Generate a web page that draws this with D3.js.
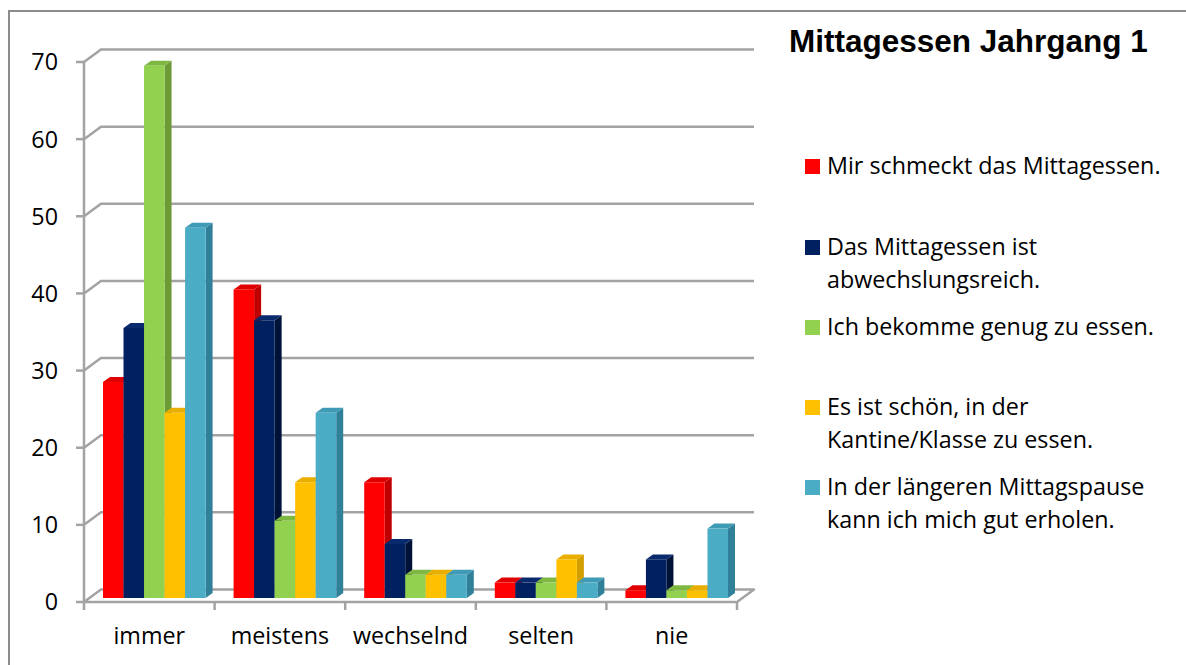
<!DOCTYPE html>
<html>
<head>
<meta charset="utf-8">
<script src="https://cdn.jsdelivr.net/npm/d3@7"></script>
<style>
  html, body { margin: 0; padding: 0; background: #fff; }
  svg { display: block; }
  .lbl { font-family: "Open Sans", "Noto Sans", sans-serif; font-size: 23.3px; fill: #000; }
</style>
</head>
<body>
<svg id="chart"></svg>
<script>
  // values
  const categories = ['immer', 'meistens', 'wechselnd', 'selten', 'nie'];
  const seriesNames = [
    ['Mir schmeckt das Mittagessen.'],
    ['Das Mittagessen ist', 'abwechslungsreich.'],
    ['Ich bekomme genug zu essen.'],
    ['Es ist schön, in der', 'Kantine/Klasse zu essen.'],
    ['In der längeren Mittagspause', 'kann ich mich gut erholen.']
  ];
  const mirSchmeckt       = [28, 40, 15, 2, 1];
  const abwechslungsreich = [35, 36, 7, 2, 5];
  const genugEssen        = [69, 10, 3, 2, 1];
  const schoenKantine     = [24, 15, 3, 5, 1];
  const erholen           = [48, 24, 3, 2, 9];
  const yTicks = [0, 10, 20, 30, 40, 50, 60, 70];
  const colors = ['#FF0000', '#002060', '#92D050', '#FFC000', '#4BACC6'];
  const sideColors = ['#C00000', '#001238', '#6B9A37', '#D49F00', '#31809A'];
  const topColors = ['#E00000', '#0A2A6E', '#7EB843', '#E8AE00', '#3F9BB5'];

  const seriesValues = [mirSchmeckt, abwechslungsreich, genugEssen, schoenKantine, erholen];

  const width = 1186, height = 665;
  const svg = d3.select('#chart').attr('width', width).attr('height', height);

  // outer chart frame (cropped at right and bottom)
  svg.append('path')
      .attr('d', `M9,${height + 5} L9,11 L${width + 5},11`)
      .attr('fill', 'none').attr('stroke', '#8c8c8c').attr('stroke-width', 2);

  const y = d3.scaleLinear().domain([0, 70]).range([602, 62]);
  const x = d3.scaleBand().domain(categories).range([84, 737]);
  const x1 = d3.scaleBand().domain(d3.range(5)).range([14, x.bandwidth() - 14]);

  const wall = { dx: 17, dy: -12.5 };   // back wall offset
  const barOff = { dx: 5, dy: -4 };    // bar front plane
  const depth = { dx: 7, dy: -5 };     // bar depth
  const gridColor = '#a3a3a3';

  const g = svg.append('g');

  // floor
  const x0 = x.range()[0], xEnd = x.range()[1];
  g.append('path')
      .attr('d', `M${x0},${y(0)} L${xEnd},${y(0)} L${xEnd + wall.dx},${y(0) + wall.dy} L${x0 + wall.dx},${y(0) + wall.dy} Z`)
      .attr('fill', 'none').attr('stroke', gridColor).attr('stroke-width', 2.5)
      .attr('stroke-linejoin', 'round');

  // gridlines on back + left wall
  g.selectAll('.grid').data(yTicks.filter(d => d > 0)).enter().append('path')
      .attr('class', 'grid')
      .attr('d', d => `M${x0},${y(d)} L${x0 + wall.dx},${y(d) + wall.dy} L${xEnd + wall.dx},${y(d) + wall.dy}`)
      .attr('fill', 'none').attr('stroke', gridColor).attr('stroke-width', 2.5);

  // value axis
  g.append('line')
      .attr('x1', x0).attr('x2', x0).attr('y1', y(0)).attr('y2', y(70))
      .attr('stroke', gridColor).attr('stroke-width', 2.5);
  g.selectAll('.ytick').data(yTicks).enter().append('line')
      .attr('x1', x0 - 8).attr('x2', x0).attr('y1', d => y(d)).attr('y2', d => y(d))
      .attr('stroke', gridColor).attr('stroke-width', 2.5);
  g.selectAll('.ylab').data(yTicks).enter().append('text')
      .attr('class', 'lbl')
      .attr('x', 58).attr('y', d => y(d)).attr('dy', '0.36em')
      .attr('text-anchor', 'end')
      .text(d => d);

  // category ticks and labels
  const edges = categories.map(c => x(c)).concat([xEnd]);
  g.selectAll('.xtick').data(edges).enter().append('line')
      .attr('x1', d => d).attr('x2', d => d).attr('y1', y(0)).attr('y2', y(0) + 8)
      .attr('stroke', gridColor).attr('stroke-width', 2.5);
  g.selectAll('.xlab').data(categories).enter().append('text')
      .attr('class', 'lbl')
      .attr('x', d => x(d) + x.bandwidth() / 2).attr('y', 644)
      .attr('text-anchor', 'middle')
      .text(d => d);

  // 3d bars, left to right so later bars cover earlier side faces
  const bars = [];
  categories.forEach((c, ci) => {
    seriesValues.forEach((vals, si) => {
      bars.push({ cat: c, s: si, v: vals[ci] });
    });
  });

  const barG = g.append('g');
  bars.forEach(b => {
    const left = x(b.cat) + x1(b.s) + barOff.dx;
    const right = left + x1.bandwidth();
    const top = y(b.v) + barOff.dy;
    const bottom = y(0) + barOff.dy;
    const bg = barG.append('g');
    bg.append('path')
        .attr('d', `M${right},${bottom} L${right + depth.dx},${bottom + depth.dy} L${right + depth.dx},${top + depth.dy} L${right},${top} Z`)
        .attr('fill', sideColors[b.s]);
    bg.append('path')
        .attr('d', `M${left},${top} L${left + depth.dx},${top + depth.dy} L${right + depth.dx},${top + depth.dy} L${right},${top} Z`)
        .attr('fill', topColors[b.s]);
    bg.append('rect')
        .attr('x', left).attr('y', top)
        .attr('width', x1.bandwidth()).attr('height', bottom - top)
        .attr('fill', colors[b.s]);
  });

  // title
  svg.append('text')
      .attr('x', 789).attr('y', 52)
      .attr('font-family', '"Liberation Sans", Arial, sans-serif')
      .attr('font-weight', 'bold').attr('font-size', 31.5)
      .attr('fill', '#000')
      .text('Mittagessen Jahrgang 1');

  // legend
  const legendBase = [174, 255, 335, 415, 495];
  const legend = svg.append('g');
  seriesNames.forEach((lines, i) => {
    legend.append('rect')
        .attr('x', 805).attr('y', legendBase[i] - 15)
        .attr('width', 15).attr('height', 15)
        .attr('fill', colors[i]);
    lines.forEach((t, li) => {
      legend.append('text')
          .attr('class', 'lbl')
          .attr('x', 827).attr('y', legendBase[i] + li * 32.5)
          .text(t);
    });
  });
</script>
</body>
</html>
